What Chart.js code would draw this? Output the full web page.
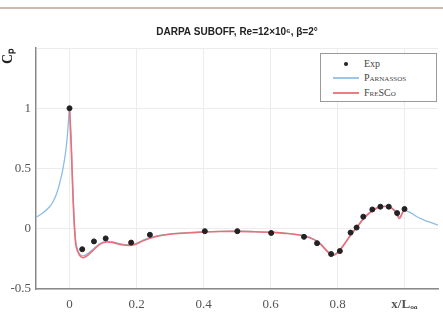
<!DOCTYPE html>
<html>
<head>
<meta charset="utf-8">
<script src="https://cdn.jsdelivr.net/npm/chart.js@4.4.1/dist/chart.umd.min.js"></script>
<style>
  body { margin: 0; background: #fff; }
  #wrap { position: relative; width: 443px; height: 323px; }
  #topLine { position: absolute; left: 0; top: 7px; width: 443px; height: 2px; background: #cbbcae; }
  #legend { position: absolute; left: 320px; top: 53px; width: 115px; height: 47px; border: 1px solid #9a9a9a; background: #fff;
            font-family: "Liberation Serif", serif; font-size: 10px; color: #444; }
  .row { position: absolute; left: 0; height: 12px; line-height: 12px; }
  .sample { position: absolute; left: 12px; width: 26px; top: 5px; height: 2px; }
  .dot { position: absolute; left: 23px; top: 4px; width: 4px; height: 4px; border-radius: 2px; background: #222; }
  .lbl { position: absolute; left: 43px; white-space: nowrap; }
  .sc { font-variant: small-caps; }
</style>
</head>
<body>
<div id="wrap">
  <canvas id="cpChart" width="443" height="323"></canvas>
  <div id="topLine"></div>
  <div id="legend">
    <div class="row" style="top:4px"><div class="dot"></div><span class="lbl">Exp</span></div>
    <div class="row" style="top:18px"><div class="sample" style="background:#9cc6ea"></div><span class="lbl sc">Parnassos</span></div>
    <div class="row" style="top:33px"><div class="sample" style="background:#ef7b83"></div><span class="lbl sc">FreSCo</span></div>
  </div>
</div>
<script>
// experiment
const expX = [0, 0.038, 0.073, 0.108, 0.184, 0.240, 0.404, 0.501, 0.602, 0.700, 0.739, 0.781, 0.807, 0.839, 0.857, 0.877, 0.904, 0.928, 0.953, 0.978, 1.0];
const expCp = [1.0, -0.17, -0.105, -0.08, -0.115, -0.05, -0.02, -0.02, -0.035, -0.067, -0.12, -0.21, -0.185, -0.032, 0.01, 0.10, 0.16, 0.183, 0.183, 0.13, 0.164];

// PARNASSOS
const parX = [-0.1, -0.08, -0.06, -0.05, -0.04, -0.03, -0.02, -0.01, -0.005, 0, 0.005, 0.01, 0.015, 0.02, 0.03, 0.04, 0.05, 0.07, 0.09, 0.11, 0.13, 0.16, 0.19, 0.22, 0.25, 0.3, 0.35, 0.4, 0.45, 0.5, 0.55, 0.6, 0.65, 0.7, 0.73, 0.75, 0.77, 0.785, 0.8, 0.82, 0.84, 0.86, 0.88, 0.9, 0.92, 0.94, 0.955, 0.97, 0.985, 0.995, 1.0, 1.02, 1.04, 1.06, 1.08, 1.1];
const parCp = [0.095, 0.13, 0.18, 0.22, 0.28, 0.37, 0.49, 0.67, 0.82, 1.0, 0.72, 0.32, 0.02, -0.13, -0.21, -0.225, -0.215, -0.17, -0.125, -0.105, -0.11, -0.13, -0.13, -0.095, -0.065, -0.042, -0.032, -0.025, -0.021, -0.02, -0.023, -0.028, -0.038, -0.058, -0.088, -0.125, -0.185, -0.215, -0.195, -0.125, -0.045, 0.025, 0.095, 0.145, 0.178, 0.188, 0.182, 0.155, 0.10, 0.14, 0.155, 0.13, 0.095, 0.07, 0.05, 0.03];

// FRESCO
const freX = [0, 0.005, 0.01, 0.015, 0.02, 0.03, 0.04, 0.05, 0.07, 0.09, 0.11, 0.13, 0.16, 0.19, 0.22, 0.25, 0.3, 0.35, 0.4, 0.45, 0.5, 0.55, 0.6, 0.65, 0.7, 0.73, 0.75, 0.77, 0.785, 0.8, 0.82, 0.84, 0.86, 0.88, 0.9, 0.92, 0.94, 0.955, 0.97, 0.985, 0.995, 1.0];
const freCp = [1.0, 0.70, 0.30, 0.0, -0.15, -0.22, -0.24, -0.23, -0.18, -0.13, -0.11, -0.115, -0.135, -0.135, -0.10, -0.07, -0.045, -0.035, -0.027, -0.023, -0.022, -0.025, -0.03, -0.04, -0.06, -0.09, -0.13, -0.19, -0.22, -0.20, -0.13, -0.05, 0.02, 0.09, 0.14, 0.175, 0.185, 0.18, 0.15, 0.085, 0.14, 0.17];

const xTicks = [0, 0.2, 0.4, 0.6, 0.8, 1.0];
const yTicks = [-0.5, 0, 0.5, 1, 1.5];

const toPts = (xs, ys) => xs.map((x, i) => ({ x: x, y: ys[i] }));

const chart = new Chart(document.getElementById("cpChart").getContext("2d"), {
  type: "scatter",
  data: {
    datasets: [
      {
        label: "PARNASSOS",
        data: toPts(parX, parCp),
        showLine: true,
        borderColor: "#8cbde6",
        borderWidth: 1.3,
        pointRadius: 0,
        tension: 0.3,
        order: 3,
      },
      {
        label: "FRESCO",
        data: toPts(freX, freCp),
        showLine: true,
        borderColor: "#ec6f78",
        borderWidth: 1.6,
        pointRadius: 0,
        tension: 0.3,
        order: 2,
      },
      {
        label: "Exp",
        data: toPts(expX, expCp),
        showLine: false,
        pointRadius: 2.5,
        pointBackgroundColor: "#222",
        pointBorderColor: "#222",
        order: 1,
      },
    ],
  },
  options: {
    responsive: false,
    animation: false,
    layout: { padding: { top: 0, right: 5, left: 0, bottom: 0 } },
    plugins: {
      legend: { display: false },
      tooltip: { enabled: false },
      title: {
        display: true,
        fullSize: false,
        text: "DARPA SUBOFF, Re=12×10⁶, β=2°",
        color: "#222",
        font: { family: "Liberation Sans", size: 10, weight: "bold" },
        padding: { top: 26, bottom: 10 },
      },
    },
    scales: {
      x: {
        type: "linear",
        min: -0.1,
        max: 1.1,
        afterBuildTicks: (s) => { s.ticks = xTicks.map((v) => ({ value: v })); },
        afterFit: (s) => { s.height = 34; },
        border: { color: "#8a8a8a", width: 1.5 },
        grid: { color: "#ececec", drawTicks: false },
        ticks: {
          padding: 8,
          color: "#555",
          font: (ctx) => (ctx.tick && ctx.tick.value === 1
            ? { family: "Liberation Serif", size: 13, weight: "bold" }
            : { family: "Liberation Serif", size: 13 }),
          callback: (v) => (v === 1 ? "x/Lₒₐ" : String(v)),
        },
      },
      y: {
        min: -0.5,
        max: 1.5,
        afterBuildTicks: (s) => { s.ticks = yTicks.map((v) => ({ value: v })); },
        afterFit: (s) => { s.width = 36; },
        border: { color: "#8a8a8a", width: 1.5 },
        grid: { color: "#ececec", drawTicks: false },
        title: {
          display: true,
          text: "Cₚ",
          align: "end",
          color: "#222",
          font: { family: "Liberation Serif", size: 14, weight: "bold" },
          padding: { top: 0, bottom: 0, left: 6 },
        },
        ticks: {
          padding: 5,
          color: "#555",
          font: { family: "Liberation Serif", size: 13 },
          callback: (v) => (v === 1.5 ? "" : String(v)),
        },
      },
    },
  },
});
</script>
</body>
</html>
